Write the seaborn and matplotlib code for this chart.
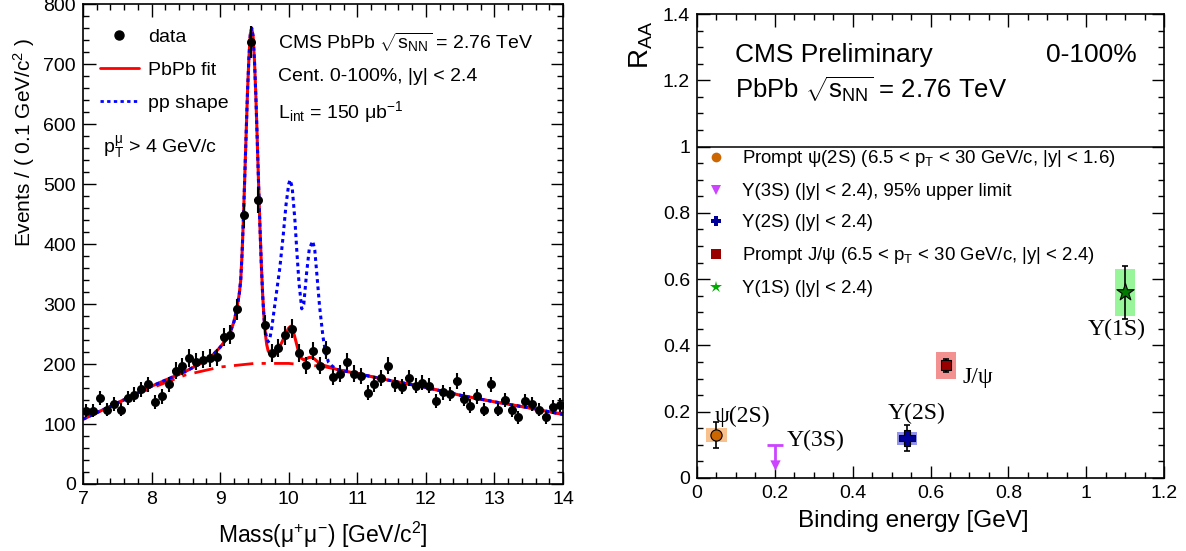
import numpy as np
import matplotlib
matplotlib.use("Agg")
import matplotlib.pyplot as plt
import seaborn as sns
from matplotlib.lines import Line2D
from matplotlib.patches import Rectangle
from matplotlib.ticker import MultipleLocator, FuncFormatter

# ---- left panel: dimuon mass spectrum, 0.1 GeV bins from 7 to 14 GeV
bin_low, bin_width = 7.0, 0.1
counts = [122, 122, 143, 124, 133, 124, 143, 149, 158, 166,
          137, 146, 166, 189, 196, 210, 204, 207, 210, 211,
          245, 249, 291, 448, 737, 474, 265, 218, 227, 248,
          259, 218, 198, 222, 197, 223, 178, 184, 204, 184,
          180, 152, 167, 177, 197, 166, 162, 176, 164, 169,
          164, 139, 153, 150, 172, 142, 130, 146, 124, 166,
          124, 140, 123, 111, 139, 133, 124, 111, 128, 132]

# fit curves
low_mass = [7.0, 7.5, 8.0, 8.5, 8.7, 8.8, 8.9, 9.0, 9.1, 9.15, 9.2, 9.24, 9.28,
            9.30, 9.32, 9.34, 9.36, 9.38, 9.40, 9.42, 9.44, 9.46, 9.48, 9.50,
            9.52, 9.54, 9.56, 9.58, 9.60, 9.62, 9.64]
low_vals = [108, 135, 163, 188, 200, 207, 216, 228, 243, 254, 270, 290, 318,
            340, 385, 445, 516, 587, 657, 712, 750, 760, 747, 707,
            649, 577, 502, 430, 367, 315, 276]
fit_mid_mass = [9.66, 9.68, 9.70, 9.73, 9.76, 9.80, 9.85, 9.90, 9.95, 10.00,
                10.03, 10.06, 10.10, 10.14, 10.18, 10.22, 10.26, 10.30, 10.34,
                10.38, 10.42, 10.46, 10.50, 10.60]
fit_mid_vals = [250, 232, 222, 216, 215, 218, 226, 236, 249, 260,
                263, 257, 240, 222, 210, 207, 209, 211, 211,
                208, 204, 200, 198, 195]
pp_mid_mass = [9.66, 9.68, 9.70, 9.72, 9.75, 9.78, 9.82, 9.87, 9.92, 9.96,
               10.00, 10.02, 10.05, 10.09, 10.12, 10.15, 10.19, 10.22, 10.26,
               10.30, 10.35, 10.38, 10.41, 10.45, 10.50, 10.54, 10.58, 10.63]
pp_mid_vals = [255, 242, 237, 240, 258, 284, 318, 360, 415, 465,
               500, 507, 495, 440, 385, 335, 292, 300, 351,
               392, 405, 390, 350, 296, 245, 218, 203, 197]
high_mass = [10.7, 11.0, 11.5, 12.0, 12.5, 13.0, 13.5, 14.0]
high_vals = [191, 184, 172, 161, 148, 137, 127, 116]
bkg_mass = [7.0, 7.5, 8.0, 8.5, 9.0, 9.5, 10.0, 10.5, 11.0, 11.5, 12.0, 12.5, 13.0, 13.5, 14.0]
bkg_vals = [108, 135, 160, 182, 195, 201, 201, 196, 184, 172, 161, 148, 137, 127, 116]

# ---- right panel: R_AA vs binding energy
states = ["psi2S", "Y3S", "Y2S", "Jpsi", "Y1S"]
binding = [0.05, 0.20, 0.54, 0.64, 1.10]
raa = [0.13, 0.10, 0.12, 0.34, 0.56]
stat_err = [0.04, 0.0, 0.04, 0.02, 0.08]
syst_err = [0.02, 0.0, 0.02, 0.04, 0.07]
legend_labels = [
    "Prompt ψ(2S) (6.5 < p$_{T}$ < 30 GeV/c, |y| < 1.6)",
    "Υ(3S) (|y| < 2.4), 95% upper limit",
    "Υ(2S) (|y| < 2.4)",
    "Prompt J/ψ (6.5 < p$_{T}$ < 30 GeV/c, |y| < 2.4)",
    "Υ(1S) (|y| < 2.4)",
]
point_labels = ["ψ(2S)", "Υ(3S)", "Υ(2S)", "J/ψ", "Υ(1S)"]

sns.set_theme(style="ticks")
plt.rcParams['font.family'] = ['Liberation Sans', 'DejaVu Sans']
plt.rcParams.update({
    'mathtext.fontset': 'custom',
    'mathtext.rm': 'Liberation Sans',
    'mathtext.it': 'Liberation Sans',
    'mathtext.bf': 'Liberation Sans:bold',
    'xtick.direction': 'in', 'ytick.direction': 'in',
    'xtick.top': True, 'ytick.right': True,
    'xtick.major.size': 9, 'ytick.major.size': 9,
    'xtick.minor.size': 4.5, 'ytick.minor.size': 4.5,
    'xtick.major.width': 1, 'ytick.major.width': 1,
    'xtick.minor.width': 1, 'ytick.minor.width': 1,
    'axes.linewidth': 1.2,
    'axes.edgecolor': 'black', 'xtick.color': 'black', 'ytick.color': 'black',
    'text.color': 'black', 'axes.labelcolor': 'black',
})

fig = plt.figure(figsize=(11.86, 5.51), dpi=100)
ax1 = fig.add_axes([0.070, 0.1216, 0.4047, 0.871])
ax2 = fig.add_axes([0.5877, 0.1325, 0.3938, 0.842])

# ---------------- left panel
centers = bin_low + bin_width * (np.arange(len(counts)) + 0.5)
counts = np.array(counts)
fit_mass = low_mass + fit_mid_mass + high_mass
fit_vals = low_vals + fit_mid_vals + high_vals
pp_mass = low_mass + pp_mid_mass + high_mass
pp_vals = low_vals + pp_mid_vals + high_vals

sns.lineplot(x=bkg_mass, y=bkg_vals, ax=ax1, color='red', lw=2,
             linestyle=(0, (7, 3, 1.5, 3)), estimator=None, sort=False)
sns.lineplot(x=fit_mass, y=fit_vals, ax=ax1, color='red', lw=2.2,
             estimator=None, sort=False)
sns.lineplot(x=pp_mass, y=pp_vals, ax=ax1, color='blue', lw=2.2,
             linestyle=(0, (1.2, 1.2)), estimator=None, sort=False)
ax1.errorbar(centers, counts, yerr=np.sqrt(counts), xerr=bin_width / 2,
             fmt='none', ecolor='black', elinewidth=1.5, capsize=0, zorder=4)
sns.scatterplot(x=centers, y=counts, ax=ax1, color='black', s=42,
                edgecolor='black', linewidth=0, zorder=5)

ax1.set_xlim(7, 14)
ax1.set_ylim(0, 800)
ax1.xaxis.set_major_locator(MultipleLocator(1))
ax1.xaxis.set_minor_locator(MultipleLocator(0.2))
ax1.yaxis.set_major_locator(MultipleLocator(100))
ax1.yaxis.set_minor_locator(MultipleLocator(20))
ax1.tick_params(which='both', labelsize=14, pad=5)
ax1.set_xlabel("Mass(μ$^{+}$μ$^{-}$) [GeV/c$^{2}$]", fontsize=16.5)
ax1.set_ylabel("Events / ( 0.1 GeV/c$^{2}$ )", fontsize=15)
ax1.xaxis.set_label_coords(0.5, -0.075)
ax1.yaxis.set_label_coords(-0.096, 0.712)

h_data = Line2D([], [], marker='o', color='black', linestyle='none', markersize=6.5)
h_fit = Line2D([], [], color='red', lw=2)
h_pp = Line2D([], [], color='blue', lw=2, linestyle=(0, (1.2, 1.2)))
ax1.legend([h_data, h_fit, h_pp], ["data", "PbPb fit", "pp shape"],
           loc='upper left', bbox_to_anchor=(0.035, 0.95), frameon=False,
           fontsize=14, handlelength=2.0, handletextpad=0.5,
           labelspacing=0.8, borderpad=0, borderaxespad=0)
ax1.text(0.406, 0.921, r"CMS PbPb $\sqrt{s_{NN}}$ = 2.76 TeV", transform=ax1.transAxes,
         fontsize=14, va='center')
ax1.text(0.406, 0.85, "Cent. 0-100%, |y| < 2.4", transform=ax1.transAxes,
         fontsize=14, va='center')
ax1.text(0.406, 0.775, "L$_{int}$ = 150 μb$^{-1}$", transform=ax1.transAxes,
         fontsize=14, va='center')
ax1.text(0.042, 0.702, "p$_{T}^{μ}$ > 4 GeV/c", transform=ax1.transAxes,
         fontsize=14, va='center')

# ---------------- right panel
marker_style = {
    "psi2S": dict(marker='o', color='#cc6600', box='#f7c08c', s=65),
    "Y3S": dict(marker='v', color='#cc44ff', box=None, s=55),
    "Y2S": dict(marker='P', color='#000099', box='#9393f0', s=120),
    "Jpsi": dict(marker='s', color='#990000', box='#f39090', s=60),
    "Y1S": dict(marker='*', color='#007a00', box='#99f599', s=170),
}
box_half = 0.026
label_offsets = {"psi2S": (19, 13), "Y3S": (29, 3), "Y2S": (7, 18),
                 "Jpsi": (23, -9), "Y1S": (-6, -27)}

ax2.axhline(1, color='black', lw=1.1, zorder=1)
for name, x, r, st, sy, lab in zip(states, binding, raa, stat_err, syst_err, point_labels):
    style = marker_style[name]
    if name == "Y3S":
        # 95% upper limit drawn as a downward arrow
        ax2.hlines(r, x - 0.02, x + 0.02, color=style['color'], lw=2, zorder=3)
        ax2.vlines(x, 0.045, r, color=style['color'], lw=2, zorder=3)
        sns.scatterplot(x=[x], y=[0.04], ax=ax2, marker='v', color=style['color'],
                        s=style['s'], linewidth=0, zorder=4)
    else:
        ax2.add_patch(Rectangle((x - box_half, r - sy), 2 * box_half, 2 * sy,
                                facecolor=style['box'], edgecolor='none', zorder=1))
        ax2.errorbar([x], [r], yerr=[st], fmt='none', ecolor='black',
                     elinewidth=1.2, capsize=2.5, capthick=1.2, zorder=3)
        sns.scatterplot(x=[x], y=[r], ax=ax2, marker=style['marker'], color=style['color'],
                        edgecolor='black', linewidth=0.8, s=style['s'], zorder=4)
    ax2.annotate(lab, (x, r), xytext=label_offsets[name], textcoords='offset points',
                 ha='center', va='center', fontsize=17,
                 family=['Liberation Serif', 'DejaVu Serif'])

handles = []
for name in states:
    style = marker_style[name]
    handles.append(Line2D([], [], marker=style['marker'],
                          color=style['color'] if name != "Y1S" else '#00aa00',
                          linestyle='none', markersize=7 if name != "Y1S" else 9,
                          markeredgewidth=0))
ax2.legend(handles, legend_labels, loc='upper left', bbox_to_anchor=(0.02, 0.711),
           frameon=False, fontsize=13.4, handlelength=1.0, handletextpad=0.9,
           labelspacing=0.75, borderpad=0, borderaxespad=0)

ax2.text(0.081, 0.912, "CMS Preliminary", transform=ax2.transAxes, fontsize=19, va='center')
ax2.text(0.942, 0.912, "0-100%", transform=ax2.transAxes, fontsize=19, va='center', ha='right')
ax2.text(0.081, 0.836, r"PbPb $\sqrt{s_{NN}}$ = 2.76 TeV", transform=ax2.transAxes,
         fontsize=18.5, va='center')

ax2.set_xlim(0, 1.2)
ax2.set_ylim(0, 1.4)
ax2.xaxis.set_major_locator(MultipleLocator(0.2))
ax2.xaxis.set_minor_locator(MultipleLocator(0.05))
ax2.yaxis.set_major_locator(MultipleLocator(0.2))
ax2.yaxis.set_minor_locator(MultipleLocator(0.05))
fmt = FuncFormatter(lambda v, pos: f"{v:g}")
ax2.xaxis.set_major_formatter(fmt)
ax2.yaxis.set_major_formatter(fmt)
ax2.tick_params(which='both', labelsize=14, pad=5)
ax2.set_xlabel("Binding energy [GeV]", fontsize=17.5)
ax2.set_ylabel("R$_{AA}$", fontsize=20)
ax2.xaxis.set_label_coords(0.4625, -0.069)
ax2.yaxis.set_label_coords(-0.09, 0.933)

fig.savefig("out.png", dpi=100)
